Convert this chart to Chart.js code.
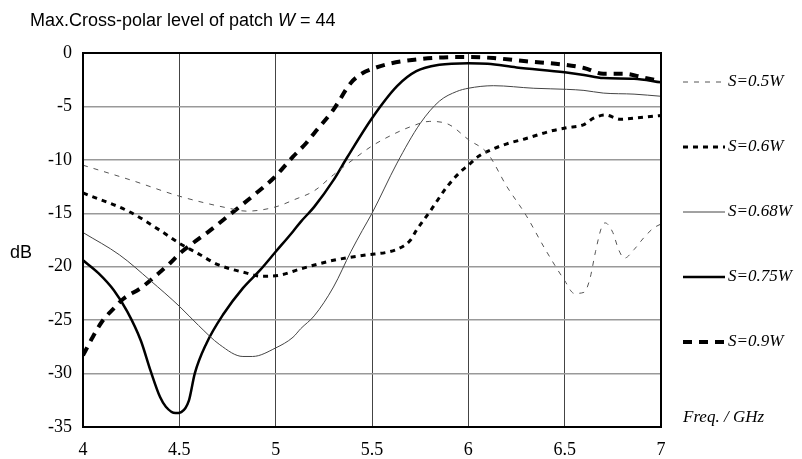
<!DOCTYPE html>
<html>
<head>
<meta charset="utf-8">
<title>Max.Cross-polar level of patch W = 44</title>
<script src="https://cdn.jsdelivr.net/npm/chart.js@4.4.1/dist/chart.umd.min.js"></script>
<style>
  body { margin: 0; background: #fff; }
  #wrap { width: 802px; height: 459px; }
</style>
</head>
<body>
<div id="wrap"><canvas id="xpolChart" width="802" height="459"></canvas></div>
<script>
// ticks
const xTicks = [4, 4.5, 5, 5.5, 6, 6.5, 7];
const yTicks = [0, -5, -10, -15, -20, -25, -30, -35];

// S = 0.5W
const s05Freq = [4.0, 4.25, 4.5, 4.75, 4.85, 5.0, 5.1, 5.2, 5.3, 5.4, 5.5, 5.6, 5.7, 5.8, 5.9, 6.0, 6.1, 6.2, 6.3, 6.4, 6.5, 6.55, 6.6, 6.63, 6.66, 6.69, 6.71, 6.75, 6.78, 6.81, 6.86, 6.91, 6.96, 7.0];
const s05dB = [-10.5, -11.9, -13.4, -14.5, -14.8, -14.4, -13.7, -12.9, -11.4, -10.0, -8.7, -7.7, -6.9, -6.4, -6.7, -8.1, -9.4, -12.5, -15.2, -18.4, -21.3, -22.5, -22.4, -21.2, -18.6, -16.4, -15.9, -16.8, -18.4, -19.2, -18.4, -17.3, -16.4, -16.0];

// S = 0.6W
const s06Freq = [4.0, 4.24, 4.4, 4.5, 4.6, 4.7, 4.85, 4.93, 5.02, 5.13, 5.3, 5.47, 5.59, 5.65, 5.7, 5.73, 5.8, 5.89, 5.96, 6.0, 6.05, 6.1, 6.2, 6.3, 6.44, 6.51, 6.6, 6.65, 6.71, 6.79, 6.86, 6.97, 7.0];
const s06dB = [-13.1, -14.85, -16.6, -17.8, -18.8, -19.8, -20.6, -20.9, -20.8, -20.2, -19.4, -18.9, -18.6, -18.2, -17.5, -16.6, -14.85, -12.5, -11.1, -10.5, -9.7, -9.2, -8.5, -8.0, -7.25, -7.0, -6.7, -6.1, -5.8, -6.2, -6.1, -5.9, -5.85];

// S = 0.68W
const s068Freq = [4.0, 4.19, 4.35, 4.5, 4.6, 4.71, 4.83, 4.88, 5.0, 5.09, 5.13, 5.2, 5.3, 5.39, 5.45, 5.5, 5.63, 5.75, 5.85, 5.94, 6.0, 6.13, 6.34, 6.51, 6.6, 6.7, 6.86, 7.0];
const s068dB = [-16.8, -18.9, -21.3, -23.7, -25.5, -27.3, -28.4, -28.4, -27.6, -26.6, -25.8, -24.6, -21.9, -18.6, -16.6, -15.0, -10.3, -6.6, -4.5, -3.6, -3.3, -3.06, -3.3, -3.4, -3.5, -3.75, -3.85, -4.05];

// S = 0.75W
const s075Freq = [4.0, 4.08, 4.16, 4.23, 4.3, 4.35, 4.4, 4.43, 4.48, 4.51, 4.55, 4.58, 4.64, 4.73, 4.83, 4.92, 5.0, 5.09, 5.13, 5.2, 5.3, 5.37, 5.5, 5.63, 5.73, 5.85, 6.0, 6.1, 6.25, 6.5, 6.6, 6.7, 6.86, 7.0];
const s075dB = [-19.4, -20.6, -22.2, -24.2, -26.9, -29.7, -32.2, -33.1, -33.7, -33.6, -32.5, -30.0, -27.2, -24.4, -22.0, -20.3, -18.6, -16.7, -15.8, -14.4, -11.9, -9.8, -6.1, -3.1, -1.7, -1.1, -0.95, -1.0, -1.35, -1.8, -2.05, -2.35, -2.4, -2.75];

// S = 0.9W
const s09Freq = [4.0, 4.05, 4.1, 4.16, 4.21, 4.3, 4.38, 4.45, 4.5, 4.57, 4.66, 4.76, 4.88, 4.99, 5.09, 5.16, 5.2, 5.3, 5.39, 5.45, 5.5, 5.59, 5.72, 5.87, 6.0, 6.13, 6.3, 6.5, 6.6, 6.7, 6.81, 6.91, 7.0];
const s09dB = [-28.3, -26.6, -25.1, -23.9, -23.0, -22.0, -20.8, -19.7, -18.8, -17.8, -16.6, -15.15, -13.4, -11.7, -9.7, -8.4, -7.5, -5.3, -2.8, -1.9, -1.5, -1.0, -0.63, -0.41, -0.38, -0.47, -0.78, -1.1, -1.4, -1.94, -1.94, -2.3, -2.65];

const seriesLabels = ["S=0.5W", "S=0.6W", "S=0.68W", "S=0.75W", "S=0.9W"];

function pts(xs, ys) {
  return xs.map((x, i) => ({ x: x, y: ys[i] }));
}

// title, frame, dB label, legend on the right
const extras = {
  id: "extras",
  afterDraw(chart) {
    const ctx = chart.ctx;
    const a = chart.chartArea;
    ctx.save();

    ctx.strokeStyle = "#000";
    ctx.lineWidth = 2;
    ctx.setLineDash([]);
    ctx.strokeRect(a.left, a.top, a.right - a.left, a.bottom - a.top);

    ctx.fillStyle = "#000";
    ctx.textBaseline = "alphabetic";
    ctx.textAlign = "left";
    let tx = 30;
    const part1 = "Max.Cross-polar level of patch ";
    ctx.font = "18px 'Liberation Sans', Arial, sans-serif";
    ctx.fillText(part1, tx, 26);
    tx += ctx.measureText(part1).width;
    ctx.font = "italic 18px 'Liberation Sans', Arial, sans-serif";
    ctx.fillText("W", tx, 26);
    tx += ctx.measureText("W").width;
    ctx.font = "18px 'Liberation Sans', Arial, sans-serif";
    ctx.fillText(" = 44", tx, 26);

    ctx.textBaseline = "middle";
    ctx.fillText("dB", 10, 253);

    const legendY = [82, 147, 212, 277, 342];
    chart.data.datasets.forEach((ds, i) => {
      const y = legendY[i];
      ctx.beginPath();
      ctx.strokeStyle = ds.borderColor;
      ctx.lineWidth = ds.borderWidth;
      ctx.setLineDash(ds.borderDash || []);
      ctx.moveTo(683, y);
      ctx.lineTo(725, y);
      ctx.stroke();
      ctx.setLineDash([]);
      ctx.fillStyle = "#000";
      ctx.font = "italic 17px 'Liberation Serif', 'Times New Roman', serif";
      ctx.fillText(ds.label, 728, y);
    });

    ctx.font = "italic 17px 'Liberation Serif', 'Times New Roman', serif";
    ctx.fillText("Freq. / GHz", 683, 418);
    ctx.restore();
  }
};

const ctxChart = document.getElementById("xpolChart");

new Chart(ctxChart, {
  type: "line",

  data: {
    datasets: [
      {
        label: seriesLabels[0],
        data: pts(s05Freq, s05dB),
        borderColor: "#555",
        borderWidth: 1,
        borderDash: [5, 6]
      },
      {
        label: seriesLabels[1],
        data: pts(s06Freq, s06dB),
        borderColor: "#000",
        borderWidth: 3,
        borderDash: [5, 5]
      },
      {
        label: seriesLabels[2],
        data: pts(s068Freq, s068dB),
        borderColor: "#444",
        borderWidth: 1
      },
      {
        label: seriesLabels[3],
        data: pts(s075Freq, s075dB),
        borderColor: "#000",
        borderWidth: 2.5
      },
      {
        label: seriesLabels[4],
        data: pts(s09Freq, s09dB),
        borderColor: "#000",
        borderWidth: 4,
        borderDash: [9, 7]
      }
    ]
  },

  options: {
    responsive: false,
    animation: false,

    layout: {
      padding: { left: 0, top: 53, right: 141, bottom: 0 }
    },

    elements: {
      point: { radius: 0 },
      line: { cubicInterpolationMode: "monotone", fill: false }
    },

    plugins: {
      legend: { display: false },
      tooltip: { enabled: false }
    },

    scales: {
      x: {
        type: "linear",
        min: 4,
        max: 7,
        afterBuildTicks: (s) => { s.ticks = xTicks.map(v => ({ value: v })); },
        afterFit: (s) => { s.height = 32; },
        ticks: {
          color: "#000",
          padding: 12,
          maxRotation: 0,
          callback: (v) => String(v),
          font: { family: "'Liberation Serif', 'Times New Roman', serif", size: 18 }
        },
        grid: {
          color: "#444",
          lineWidth: 1,
          drawTicks: false
        },
        border: { display: false }
      },

      y: {
        min: -35,
        max: 0,
        afterBuildTicks: (s) => { s.ticks = yTicks.map(v => ({ value: v })); },
        afterFit: (s) => { s.width = 83; },
        ticks: {
          color: "#000",
          padding: 11,
          callback: (v) => String(v),
          font: { family: "'Liberation Serif', 'Times New Roman', serif", size: 18 }
        },
        grid: {
          color: "#999",
          lineWidth: 1.5,
          drawTicks: false
        },
        border: { display: false }
      }
    }
  },

  plugins: [extras]
});
</script>
</body>
</html>
